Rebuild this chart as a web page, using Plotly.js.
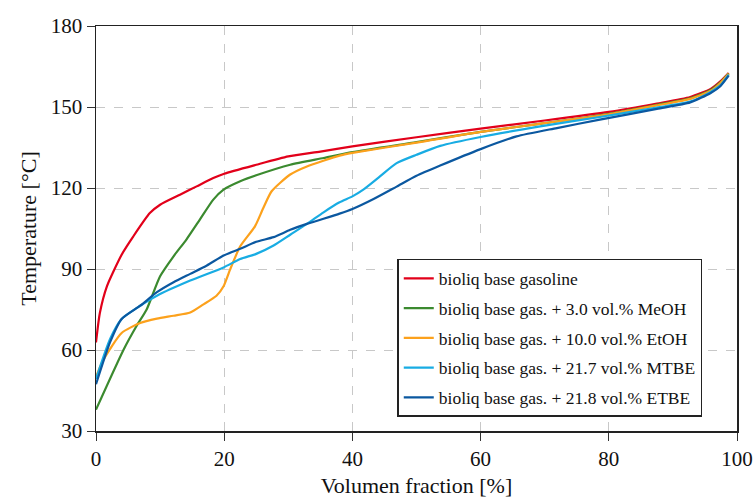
<!DOCTYPE html>
<html>
<head>
<meta charset="utf-8">
<script src="https://cdn.plot.ly/plotly-3.0.1.min.js"></script>
<style>html,body{margin:0;padding:0;background:#fff;}#chart{width:754px;height:501px;}</style>
</head>
<body>
<div id="chart"></div>
<script>
// Data
const seriesNames = [
  "bioliq base gasoline",
  "bioliq base gas. + 3.0 vol.% MeOH",
  "bioliq base gas. + 10.0 vol.% EtOH",
  "bioliq base gas. + 21.7 vol.% MTBE",
  "bioliq base gas. + 21.8 vol.% ETBE"
];
const seriesColors = ["#e2001a", "#3b8a2f", "#fca11c", "#18ace3", "#0b58a0"];

const redX = [0,0.6,1.7,4,5.8,8.4,10,13.1,15.7,18.3,20,25,30,35,40,50,60,70,80,87.5,92.7,95.9,97.4,98.7];
const redY = [62.8,73.7,83.6,95.3,102,110.7,113.8,117.5,120.6,123.7,125.3,128.6,131.7,133.5,135.4,138.8,142,145,148.2,151.3,153.7,156.7,159.5,162.6];

const greenX = [0,4.3,6.3,7.9,10,12.1,14.1,16.2,18.3,19.9,22.5,25,30.3,35.5,40,50,60,70,80,87.5,92.7,95.9,97.4,98.7];
const greenY = [37.9,60.1,68.8,75,87.3,94.7,100.9,108.3,115.7,119.4,122.5,124.7,128.6,131.1,133.3,137,140.8,144,147.5,150.8,153.2,156.3,159.1,162.4];

const orangeX = [0,1.1,4,6.9,9.5,12.1,14.7,16.7,18.8,19.9,20.9,22.5,24.8,26.1,27.4,30.3,32.9,38,40,50,60,70,80,87.5,92.7,95.9,97.4,98.7];
const orangeY = [50,56.1,66.3,70,71.6,72.7,73.9,76.8,80.1,83.6,89.7,98.4,105.8,112.6,118.8,125,128,132,133,136.8,140.8,144,147.3,150.6,153,156,158.9,162.3];

const ltblueX = [0,2.2,4,6.9,9.5,14.7,19.9,22.5,25,27.7,30.3,32.9,35.5,38,40,41.7,44.3,46.9,50,53.7,60,69.3,78.6,87.5,92.7,95.9,97.4,98.7];
const ltblueY = [49.3,64.1,71.5,76.4,80.1,85.7,90.6,93.7,95.6,98.7,102.7,106.7,111,114.7,116.9,119.4,124.3,129.2,132.3,135.6,138.9,142.8,146.3,149.8,152,155.6,158,162];

const dkblueX = [0,2.2,4,6.9,9.5,12.1,14.7,17.3,19.9,22.5,25,27.7,30.3,32.9,38,40,43.3,46.9,50,53.7,60,65.6,71.9,78.6,87.5,92.7,95.9,97.4,98.7];
const dkblueY = [47.3,62.9,71.5,76.4,81.4,85.1,88.2,91.3,95,97.5,100.1,101.8,104.5,106.7,110.5,112.2,115.9,120.5,124.5,128.3,134.4,139.1,142.2,145.3,149.3,151.7,155.2,157.7,161.6];

const xTicks = [0,20,40,60,80,100];
const yTicks = [30,60,90,120,150,180];

const allX = [redX, greenX, orangeX, ltblueX, dkblueX];
const allY = [redY, greenY, orangeY, ltblueY, dkblueY];

const traces = allX.map((xs, i) => ({
  x: xs, y: allY[i], name: seriesNames[i],
  type: 'scatter', mode: 'lines',
  line: {color: seriesColors[i], width: 2.2, shape: 'spline', smoothing: 0.6},
  legendgroup: 'g' + i
}));

const FONT = "'Liberation Serif', 'Times New Roman', serif";
const layout = {
  width: 754, height: 501,
  margin: {l: 96, r: 17, t: 26, b: 70},
  paper_bgcolor: '#fff', plot_bgcolor: '#fff',
  font: {family: FONT, size: 21, color: '#111'},
  showlegend: true,
  legend: {
    x: 0.47, y: 0.4247, xanchor: 'left', yanchor: 'top',
    bgcolor: '#fff', bordercolor: '#222', borderwidth: 1.5,
    font: {family: FONT, size: 17.5, color: '#111'},
    tracegroupgap: 4, itemwidth: 30
  },
  xaxis: {
    range: [0, 100], tickvals: xTicks, ticktext: xTicks.map(String),
    showline: true, mirror: true, linecolor: '#222', linewidth: 1.5,
    ticks: 'outside', ticklen: 8, tickcolor: '#333', tickwidth: 1,
    showgrid: true, gridcolor: '#c8c8c8', griddash: 'dash', gridwidth: 1,
    zeroline: false,
    title: {text: 'Volumen fraction [%]', font: {family: FONT, size: 22, color: '#111'}, standoff: 8}
  },
  yaxis: {
    range: [30, 180], tickvals: yTicks, ticktext: yTicks.map(String),
    showline: true, mirror: true, linecolor: '#222', linewidth: 1.5,
    ticks: 'outside', ticklen: 8, tickcolor: '#333', tickwidth: 1,
    showgrid: true, gridcolor: '#c8c8c8', griddash: 'dash', gridwidth: 1,
    zeroline: false,
    title: {text: 'Temperature [°C]', font: {family: FONT, size: 22, color: '#111'}, standoff: 8}
  }
};

Plotly.newPlot('chart', traces, layout, {staticPlot: true, displayModeBar: false});
</script>
</body>
</html>
